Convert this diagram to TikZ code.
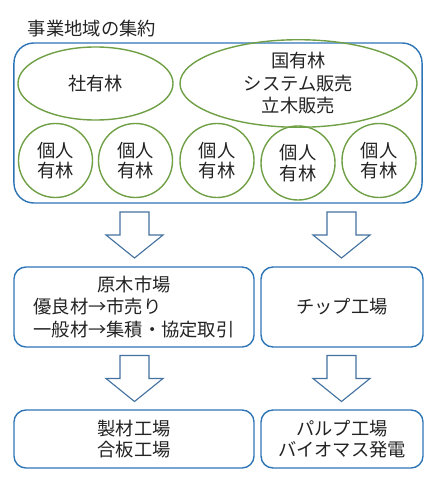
\documentclass[tikz,border=0pt]{standalone}
\usepackage{fontspec}
\setmainfont{Noto Sans CJK JP}
\usetikzlibrary{positioning,shapes.geometric}
\definecolor{frameblue}{RGB}{46,117,182}
\definecolor{arrowblue}{RGB}{68,114,160}
\definecolor{ovalgreen}{RGB}{112,160,70}
\definecolor{inkgray}{RGB}{35,35,35}
\tikzset{
  areabox/.style={draw=frameblue,line width=1pt,rounded corners=0.5cm,
    minimum width=10.2cm,minimum height=4cm},
  flowbox/.style={draw=frameblue,line width=1pt,rounded corners=0.3cm,
    align=center,text=inkgray,font=\fontsize{13}{16}\selectfont},
  oval/.style={draw=ovalgreen,line width=1pt,ellipse,inner sep=0pt,
    align=center,text=inkgray,font=\fontsize{13}{16}\selectfont},
  forest/.style={oval,minimum width=1.85cm,minimum height=1.85cm,
    font=\fontsize{13}{14.5}\selectfont},
  downarr/.pic={
    \draw[arrowblue,line width=0.8pt,fill=white,line join=miter]
      (-14.5,0) -- (14.5,0) -- (14.5,23) -- (28.5,23) -- (0,46) -- (-28.5,23)
      -- (-14.5,23) -- cycle;
  },
}
\begin{document}
\begin{tikzpicture}[x=0.025cm,y=-0.025cm]
  \useasboundingbox (0,0) rectangle (440,484);
  % gathering of the business area
  \node[anchor=west,text=inkgray,font=\fontsize{13}{16}\selectfont] (title) at (23,29) {事業地域の集約};
  \node[areabox] (area) at (218,123) {};
  \node[oval,minimum width=3.875cm,minimum height=1.825cm] (company) at (95.5,83.5) {社有林};
  \node[oval,minimum width=5.925cm,minimum height=1.825cm] (state) at (298.5,83.5) {国有林\\システム販売\\立木販売};
  \node[forest] (own1) at (55.5,160.5) {個人\\有林};
  \node[forest] (own2) at (135.5,160.5) {個人\\有林};
  \node[forest] (own3) at (217,160.5) {個人\\有林};
  \node[forest] (own4) at (298,163) {個人\\有林};
  \node[forest] (own5) at (379,160.5) {個人\\有林};
  % flow
  \pic at (134.5,212) {downarr};
  \pic at (341.5,212) {downarr};
  \node[flowbox,minimum width=6cm,minimum height=2cm] (market) at (134,307)
    {原木市場\\優良材→市売り\phantom{協定取引}\\一般材→集積・協定取引};
  \node[flowbox,minimum width=4.05cm,minimum height=2cm] (chip) at (342,307) {チップ工場};
  \pic at (134.5,355.5) {downarr};
  \pic at (341.5,355.5) {downarr};
  \node[flowbox,minimum width=6cm,minimum height=1.45cm,font=\fontsize{13}{14.5}\selectfont] (mill) at (134,439) {製材工場\\合板工場};
  \node[flowbox,minimum width=4.05cm,minimum height=1.45cm,font=\fontsize{13}{14.5}\selectfont] (pulp) at (342,439) {パルプ工場\\バイオマス発電};
\end{tikzpicture}
\end{document}
